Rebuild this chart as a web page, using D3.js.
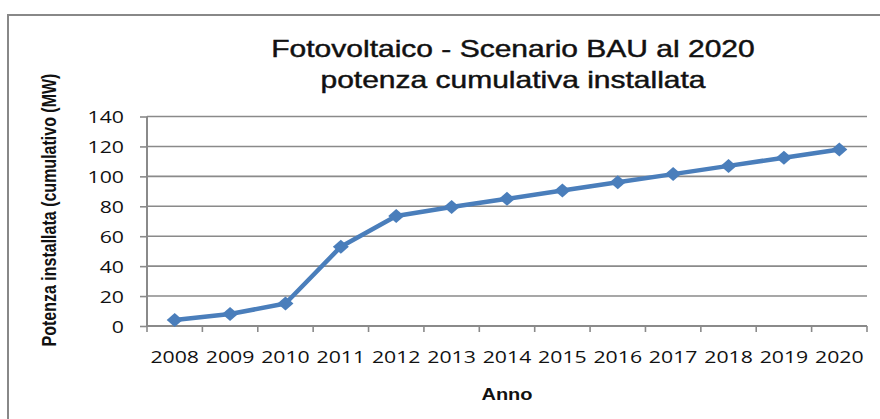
<!DOCTYPE html>
<html>
<head>
<meta charset="utf-8">
<script src="https://cdn.jsdelivr.net/npm/d3@7"></script>
<style>
  html, body { margin: 0; padding: 0; background: #fff; }
  svg { display: block; }
</style>
</head>
<body>
<svg id="chart" width="880" height="419"></svg>
<script>
// Cumulative installed photovoltaic power, BAU scenario to 2020
const years = ["2008", "2009", "2010", "2011", "2012", "2013", "2014",
               "2015", "2016", "2017", "2018", "2019", "2020"];
const potenza = [4, 8, 15, 53, 73.5, 79.5, 85, 90.5, 96, 101.5, 107, 112.5, 118];
const yTicks = [0, 20, 40, 60, 80, 100, 120, 140];
const titleLines = ["Fotovoltaico - Scenario BAU al 2020", "potenza cumulativa installata"];
const xTitle = "Anno";
const yTitle = "Potenza installata (cumulativo (MW)";

// the whole drawing uses slightly widened glyphs
const SX = 1.25;
const gridColor = "#8a8a8a";
const lineColor = "#4a7ebb";

const svg = d3.select("#chart");

// outer chart frame (runs past the right and bottom edges)
svg.append("rect")
  .attr("x", 8).attr("y", 15)
  .attr("width", 900).attr("height", 440)
  .attr("fill", "#fff")
  .attr("stroke", "#888").attr("stroke-width", 2);

const plot = { left: 147, right: 867, top: 116.5, bottom: 326 };

const x = d3.scaleBand().domain(years).range([plot.left, plot.right]);
const y = d3.scaleLinear().domain([0, 140]).range([plot.bottom, plot.top]);

// horizontal gridlines
svg.append("g")
  .selectAll("line")
  .data(yTicks.filter(t => t > 0))
  .join("line")
  .attr("x1", plot.left).attr("x2", plot.right)
  .attr("y1", d => y(d)).attr("y2", d => y(d))
  .attr("stroke", gridColor).attr("stroke-width", 1.6);

// y axis
const yAxis = svg.append("g")
  .attr("transform", `translate(${plot.left},0)`)
  .call(d3.axisLeft(y).tickValues(yTicks).tickSize(7).tickFormat(d3.format("d")));
yAxis.select(".domain").attr("stroke", gridColor).attr("stroke-width", 2)
  .attr("d", `M0,${plot.top}V${plot.bottom}`);
yAxis.selectAll(".tick line").attr("stroke", gridColor).attr("stroke-width", 1.6);
yAxis.selectAll(".tick text")
  .attr("x", 0).attr("dy", "0.36em")
  .attr("transform", `translate(-23,0) scale(${SX},1)`)
  .attr("text-anchor", "end")
  .attr("fill", "#111")
  .style("font-family", "'Open Sans', sans-serif")
  .style("font-size", "17px");

// x axis: labels at category centres
const xAxis = svg.append("g")
  .attr("transform", `translate(0,${plot.bottom})`)
  .call(d3.axisBottom(x).tickSize(0));
xAxis.select(".domain").attr("stroke", gridColor).attr("stroke-width", 2)
  .attr("d", `M${plot.left},0H${plot.right}`);
xAxis.selectAll(".tick text")
  .attr("y", 0).attr("dy", 0)
  .attr("transform", `translate(0,37) scale(${SX},1)`)
  .attr("text-anchor", "middle")
  .attr("fill", "#111")
  .style("font-family", "'Open Sans', sans-serif")
  .style("font-size", "17px");

// x tick marks on category boundaries
const bounds = years.map(d => x(d)).concat([x.range()[1]]);
svg.append("g")
  .selectAll("line")
  .data(bounds)
  .join("line")
  .attr("x1", d => d).attr("x2", d => d)
  .attr("y1", plot.bottom).attr("y2", plot.bottom + 6)
  .attr("stroke", gridColor).attr("stroke-width", 1.6);

// data line
const cx = d => x(d) + x.bandwidth() / 2;
const pts = years.map((yr, i) => [cx(yr), y(potenza[i])]);
svg.append("path")
  .datum(pts)
  .attr("fill", "none")
  .attr("stroke", lineColor)
  .attr("stroke-width", 4.5)
  .attr("stroke-linejoin", "round")
  .attr("d", d3.line());

// diamond markers
const hw = 8, hh = 7;
svg.append("g")
  .selectAll("path")
  .data(pts)
  .join("path")
  .attr("d", p => `M${p[0]},${p[1] - hh}L${p[0] + hw},${p[1]}L${p[0]},${p[1] + hh}L${p[0] - hw},${p[1]}Z`)
  .attr("fill", lineColor);

// title
svg.append("g")
  .selectAll("text")
  .data(titleLines)
  .join("text")
  .attr("transform", (d, i) => `translate(513,${57 + i * 31}) scale(${SX},1)`)
  .attr("text-anchor", "middle")
  .attr("fill", "#111")
  .attr("stroke", "#111")
  .attr("stroke-width", 0.45)
  .style("font-family", "'Liberation Sans', Arial, sans-serif")
  .style("font-size", "24px")
  .text(d => d);

// axis titles
svg.append("text")
  .attr("transform", `translate(507,400) scale(${SX},1)`)
  .attr("text-anchor", "middle")
  .attr("fill", "#111")
  .style("font-family", "'Liberation Sans', Arial, sans-serif")
  .style("font-weight", "bold")
  .style("font-size", "16px")
  .text(xTitle);

svg.append("text")
  .attr("transform", `translate(56,210) rotate(-90) scale(1,${SX})`)
  .attr("text-anchor", "middle")
  .attr("fill", "#111")
  .style("font-family", "'Liberation Sans', Arial, sans-serif")
  .style("font-weight", "bold")
  .style("font-size", "16px")
  .text(yTitle);
</script>
</body>
</html>
